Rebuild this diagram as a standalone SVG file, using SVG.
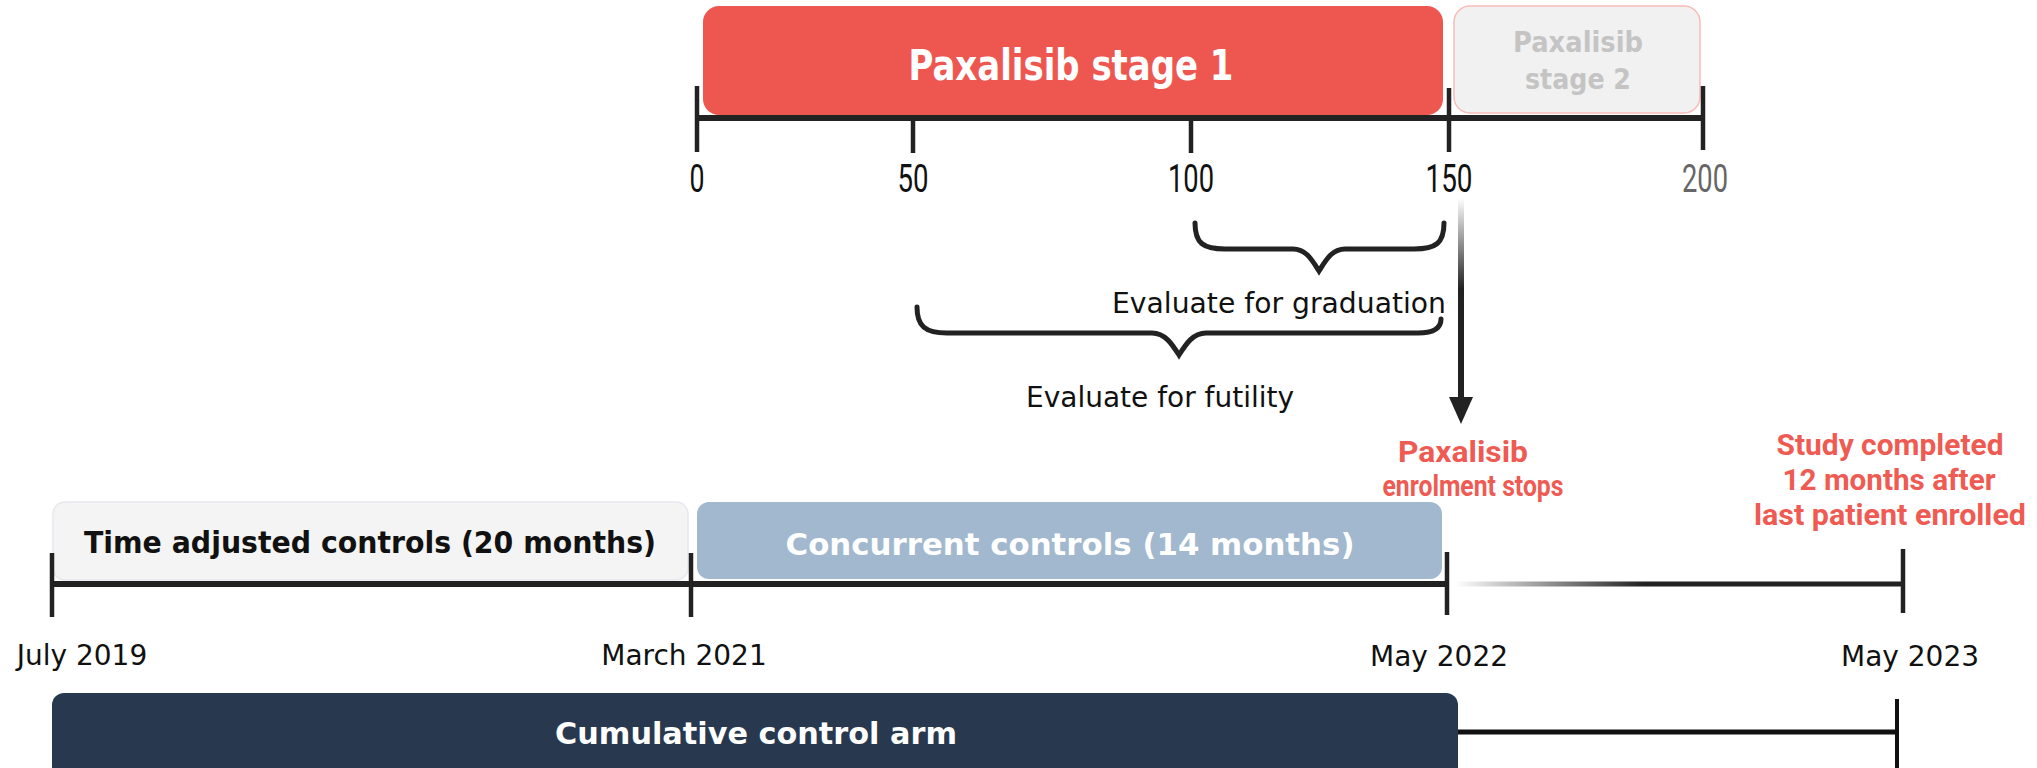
<svg xmlns="http://www.w3.org/2000/svg" width="2037" height="768" viewBox="0 0 2037 768">
<style>
.ax{stroke:#222;stroke-width:6;fill:none}
.tk{stroke:#222;stroke-width:4.5;fill:none}
.br{stroke:#222;stroke-width:5;fill:none;stroke-linecap:round}
.num{font-family:Roboto,"Liberation Sans",sans-serif;font-size:38px;fill:#111;text-anchor:middle}
.gray{fill:#666}
.lbl{font-family:"DejaVu Sans",sans-serif;font-size:28px;fill:#111}
.date{font-family:"DejaVu Sans",sans-serif;font-size:28px;fill:#111;text-anchor:middle}
.bold{font-family:"DejaVu Sans",sans-serif;font-weight:bold;text-anchor:middle}
.red{font-family:Roboto,"Open Sans",sans-serif;font-weight:bold;font-size:29px;fill:#ef5a52;text-anchor:middle}
</style>
<defs>
<linearGradient id="gH" gradientUnits="userSpaceOnUse" x1="1455" y1="0" x2="1903" y2="0">
<stop offset="0" stop-color="#ffffff"/><stop offset="0.42" stop-color="#222"/><stop offset="1" stop-color="#222"/>
</linearGradient>
<linearGradient id="gV" gradientUnits="userSpaceOnUse" x1="0" y1="198" x2="0" y2="400">
<stop offset="0" stop-color="#ffffff"/><stop offset="0.45" stop-color="#222"/><stop offset="1" stop-color="#222"/>
</linearGradient>
</defs>

<g id="stage1">
<rect x="703" y="6" width="740" height="109" rx="16" fill="#ee5750"/>
<text class="bold" x="1071" y="80" font-size="42" fill="#fff" font-family="'Open Sans',sans-serif" textLength="325" lengthAdjust="spacingAndGlyphs">Paxalisib stage 1</text>
</g>
<g id="stage2">
<rect x="1454" y="6" width="246" height="107" rx="16" fill="#f1f1f1" stroke="#f7bcb8" stroke-width="1.5"/>
<text class="bold" x="1578" y="52" font-size="28" fill="#c4c4c4" textLength="130" lengthAdjust="spacingAndGlyphs">Paxalisib</text>
<text class="bold" x="1578" y="89" font-size="28" fill="#c4c4c4" textLength="106" lengthAdjust="spacingAndGlyphs">stage 2</text>
</g>

<g id="top-axis">
<line class="ax" x1="695" y1="118" x2="1703" y2="118"/>
<line class="tk" x1="697" y1="86" x2="697" y2="152"/>
<line class="tk" x1="913" y1="118" x2="913" y2="153"/>
<line class="tk" x1="1191" y1="118" x2="1191" y2="153"/>
<line class="tk" x1="1449" y1="88" x2="1449" y2="152"/>
<line class="tk" x1="1703" y1="86" x2="1703" y2="150"/>
<text class="num" x="697" y="192" textLength="15" lengthAdjust="spacingAndGlyphs">0</text>
<text class="num" x="913" y="192" textLength="31" lengthAdjust="spacingAndGlyphs">50</text>
<text class="num" x="1191" y="192" textLength="46" lengthAdjust="spacingAndGlyphs">100</text>
<text class="num" x="1449" y="192" textLength="47" lengthAdjust="spacingAndGlyphs">150</text>
<text class="num gray" x="1705" y="192" textLength="46" lengthAdjust="spacingAndGlyphs">200</text>
</g>

<g id="graduation">
<path class="br" d="M1195,223 C1195,243 1203,249 1225,249 L1293,249 C1306,249 1312,260 1319,271 C1326,260 1332,249 1345,249 L1414,249 C1436,249 1444,243 1444,223"/>
<text class="lbl" x="1112" y="313" textLength="334" lengthAdjust="spacingAndGlyphs">Evaluate for graduation</text>
</g>
<g id="futility">
<path class="br" d="M917,307 C917,326 925,333 947,333 L1152,333 C1165,333 1172,344 1179,355 C1186,344 1193,333 1206,333 L1418,333 C1434,333 1441,328 1441,319"/>
<text class="lbl" x="1026" y="407" textLength="268" lengthAdjust="spacingAndGlyphs">Evaluate for futility</text>
</g>

<g id="connectors">
<line x1="1461" y1="198" x2="1461" y2="400" stroke="url(#gV)" stroke-width="6"/>
<polygon points="1449,397 1473,397 1461,424" fill="#222"/>
</g>

<g id="enrolment-stops">
<text class="red" x="1463" y="462" textLength="130" lengthAdjust="spacingAndGlyphs">Paxalisib</text>
<text class="red" x="1473" y="496" textLength="181" lengthAdjust="spacingAndGlyphs">enrolment stops</text>
</g>
<g id="study-completed">
<text class="red" x="1890" y="455" textLength="227" lengthAdjust="spacingAndGlyphs">Study completed</text>
<text class="red" x="1889" y="490" textLength="213" lengthAdjust="spacingAndGlyphs">12 months after</text>
<text class="red" x="1890" y="525" textLength="272" lengthAdjust="spacingAndGlyphs">last patient enrolled</text>
</g>

<g id="time-adjusted">
<rect x="53" y="502" width="635" height="78" rx="12" fill="#f4f4f4" stroke="#e6e8ee" stroke-width="1.5"/>
<text class="bold" x="370" y="553" font-size="30" fill="#111" textLength="572" lengthAdjust="spacingAndGlyphs">Time adjusted controls (20 months)</text>
</g>
<g id="concurrent">
<rect x="697" y="502" width="745" height="77" rx="12" fill="#a1b8ce"/>
<text class="bold" x="1070" y="555" font-size="31" fill="#fff" textLength="569" lengthAdjust="spacingAndGlyphs">Concurrent controls (14 months)</text>
</g>

<g id="bottom-axis">
<line class="ax" x1="52" y1="584" x2="1447" y2="584"/>
<line x1="1455" y1="584" x2="1903" y2="584" stroke="url(#gH)" stroke-width="5"/>
<line class="tk" x1="52" y1="553" x2="52" y2="617"/>
<line class="tk" x1="691" y1="553" x2="691" y2="617"/>
<line class="tk" x1="1447" y1="552" x2="1447" y2="615"/>
<line class="tk" x1="1903" y1="549" x2="1903" y2="613"/>
<text class="date" x="82" y="665">July 2019</text>
<text class="date" x="684" y="665">March 2021</text>
<text class="date" x="1439" y="666">May 2022</text>
<text class="date" x="1910" y="666">May 2023</text>
</g>

<g id="cumulative">
<rect x="52" y="693" width="1406" height="90" rx="12" fill="#28394f"/>
<text class="bold" x="756" y="744" font-size="30" fill="#fff" textLength="402" lengthAdjust="spacingAndGlyphs">Cumulative control arm</text>
<line x1="1458" y1="732" x2="1897" y2="732" stroke="#111" stroke-width="5"/>
<line x1="1897" y1="699" x2="1897" y2="768" stroke="#111" stroke-width="4"/>
</g>
</svg>
